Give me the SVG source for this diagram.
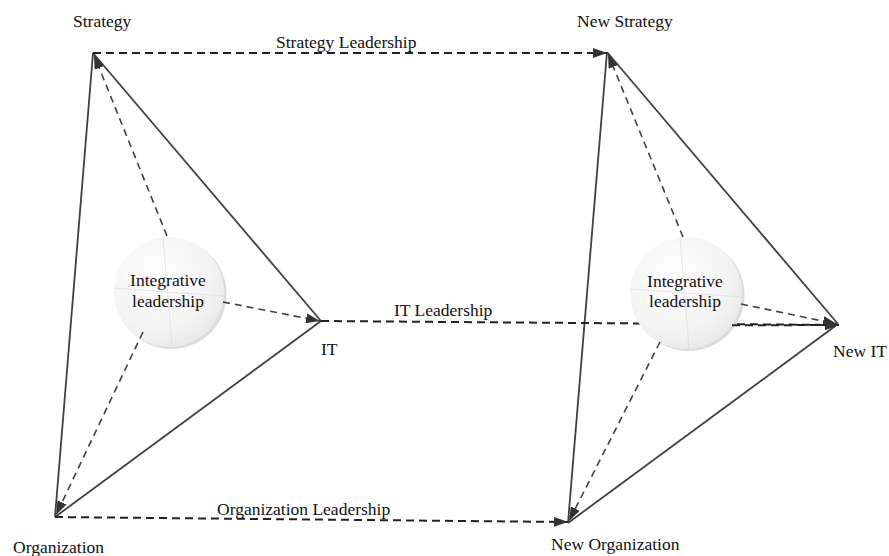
<svg xmlns="http://www.w3.org/2000/svg" width="889" height="556" viewBox="0 0 889 556">
<style>
text{font-family:'Times New Roman','Liberation Serif','DejaVu Serif',serif;font-size:17.5px;fill:#111}
.solid{stroke:#404040;stroke-width:1.8;fill:none}
.dash{stroke:#222;stroke-width:2;stroke-dasharray:8 5;fill:none}
.dash2{stroke:#404040;stroke-width:1.6;stroke-dasharray:7 5;fill:none}
.ball{fill:url(#g)}
.shadow{fill:#dcdcdc}
.cross{stroke:#dadada;stroke-width:0.7;fill:none}
</style>
<defs>
<radialGradient id="g" cx="0.4" cy="0.35" r="0.75">
<stop offset="0" stop-color="#ffffff"/>
<stop offset="0.65" stop-color="#f3f3f3"/>
<stop offset="1" stop-color="#e6e6e6"/>
</radialGradient>
<marker id="ah" viewBox="0 0 14 10" markerWidth="14" markerHeight="10" refX="14" refY="5" orient="auto" markerUnits="userSpaceOnUse">
<path d="M0,0 L14,5 L0,10 z" fill="#333"/>
</marker>
</defs>
<g id="connectors">
<line class="solid" x1="55" y1="517" x2="93" y2="53"/>
<line class="solid" x1="321" y1="321" x2="93" y2="53"/>
<line class="solid" x1="321" y1="321" x2="55" y2="517"/>
<line class="solid" x1="568" y1="523" x2="607" y2="52"/>
<line class="solid" x1="838" y1="324" x2="607" y2="52"/>
<line class="solid" x1="838" y1="324" x2="568" y2="523"/>
<line class="dash" x1="93" y1="53" x2="607" y2="53" marker-end="url(#ah)"/>
<line class="dash" x1="321" y1="321" x2="839" y2="325" marker-end="url(#ah)"/>
<line class="dash" x1="55" y1="517" x2="568" y2="522" marker-end="url(#ah)"/>
</g>
<g id="circle-left">
<circle class="shadow" cx="171.5" cy="294" r="55"/>
<circle class="ball" cx="169" cy="292" r="55"/>
<line class="cross" x1="114" y1="288" x2="224" y2="296"/>
<line class="cross" x1="163" y1="237" x2="172" y2="347"/>
<text x="168" y="286" text-anchor="middle">Integrative</text>
<text x="168" y="307" text-anchor="middle">leadership</text>
</g>
<g id="circle-right">
<circle class="shadow" cx="688.5" cy="295" r="56"/>
<circle class="ball" cx="686" cy="293" r="56"/>
<line class="cross" x1="630" y1="289" x2="742" y2="297"/>
<line class="cross" x1="680" y1="237" x2="689" y2="349"/>
<text x="685" y="287" text-anchor="middle">Integrative</text>
<text x="685" y="307" text-anchor="middle">leadership</text>
</g>
<g id="connectors-inner">
<line class="dash2" x1="167" y1="236" x2="94" y2="55" marker-end="url(#ah)"/>
<line class="dash2" x1="223" y1="302" x2="320" y2="321" marker-end="url(#ah)"/>
<line class="dash2" x1="143" y1="332" x2="56" y2="515" marker-end="url(#ah)"/>
<line class="dash2" x1="683" y1="237" x2="608" y2="54" marker-end="url(#ah)"/>
<line class="dash2" x1="741" y1="304" x2="837" y2="324" marker-end="url(#ah)"/>
<line class="dash2" x1="660" y1="342" x2="569" y2="521" marker-end="url(#ah)"/>
<line class="dash" x1="732" y1="325.3" x2="839" y2="325" marker-end="url(#ah)"/>
</g>
<g id="node-strategy"><text x="73" y="27">Strategy</text></g>
<g id="node-it"><text x="321" y="355">IT</text></g>
<g id="node-organization"><text x="13" y="553">Organization</text></g>
<g id="node-new-strategy"><text x="577" y="27">New Strategy</text></g>
<g id="node-new-it"><text x="833" y="357">New IT</text></g>
<g id="node-new-organization"><text x="551" y="550">New Organization</text></g>
<g id="labels">
<text x="276" y="48">Strategy Leadership</text>
<text x="394" y="316">IT Leadership</text>
<text x="217" y="515">Organization Leadership</text>
</g>
</svg>
